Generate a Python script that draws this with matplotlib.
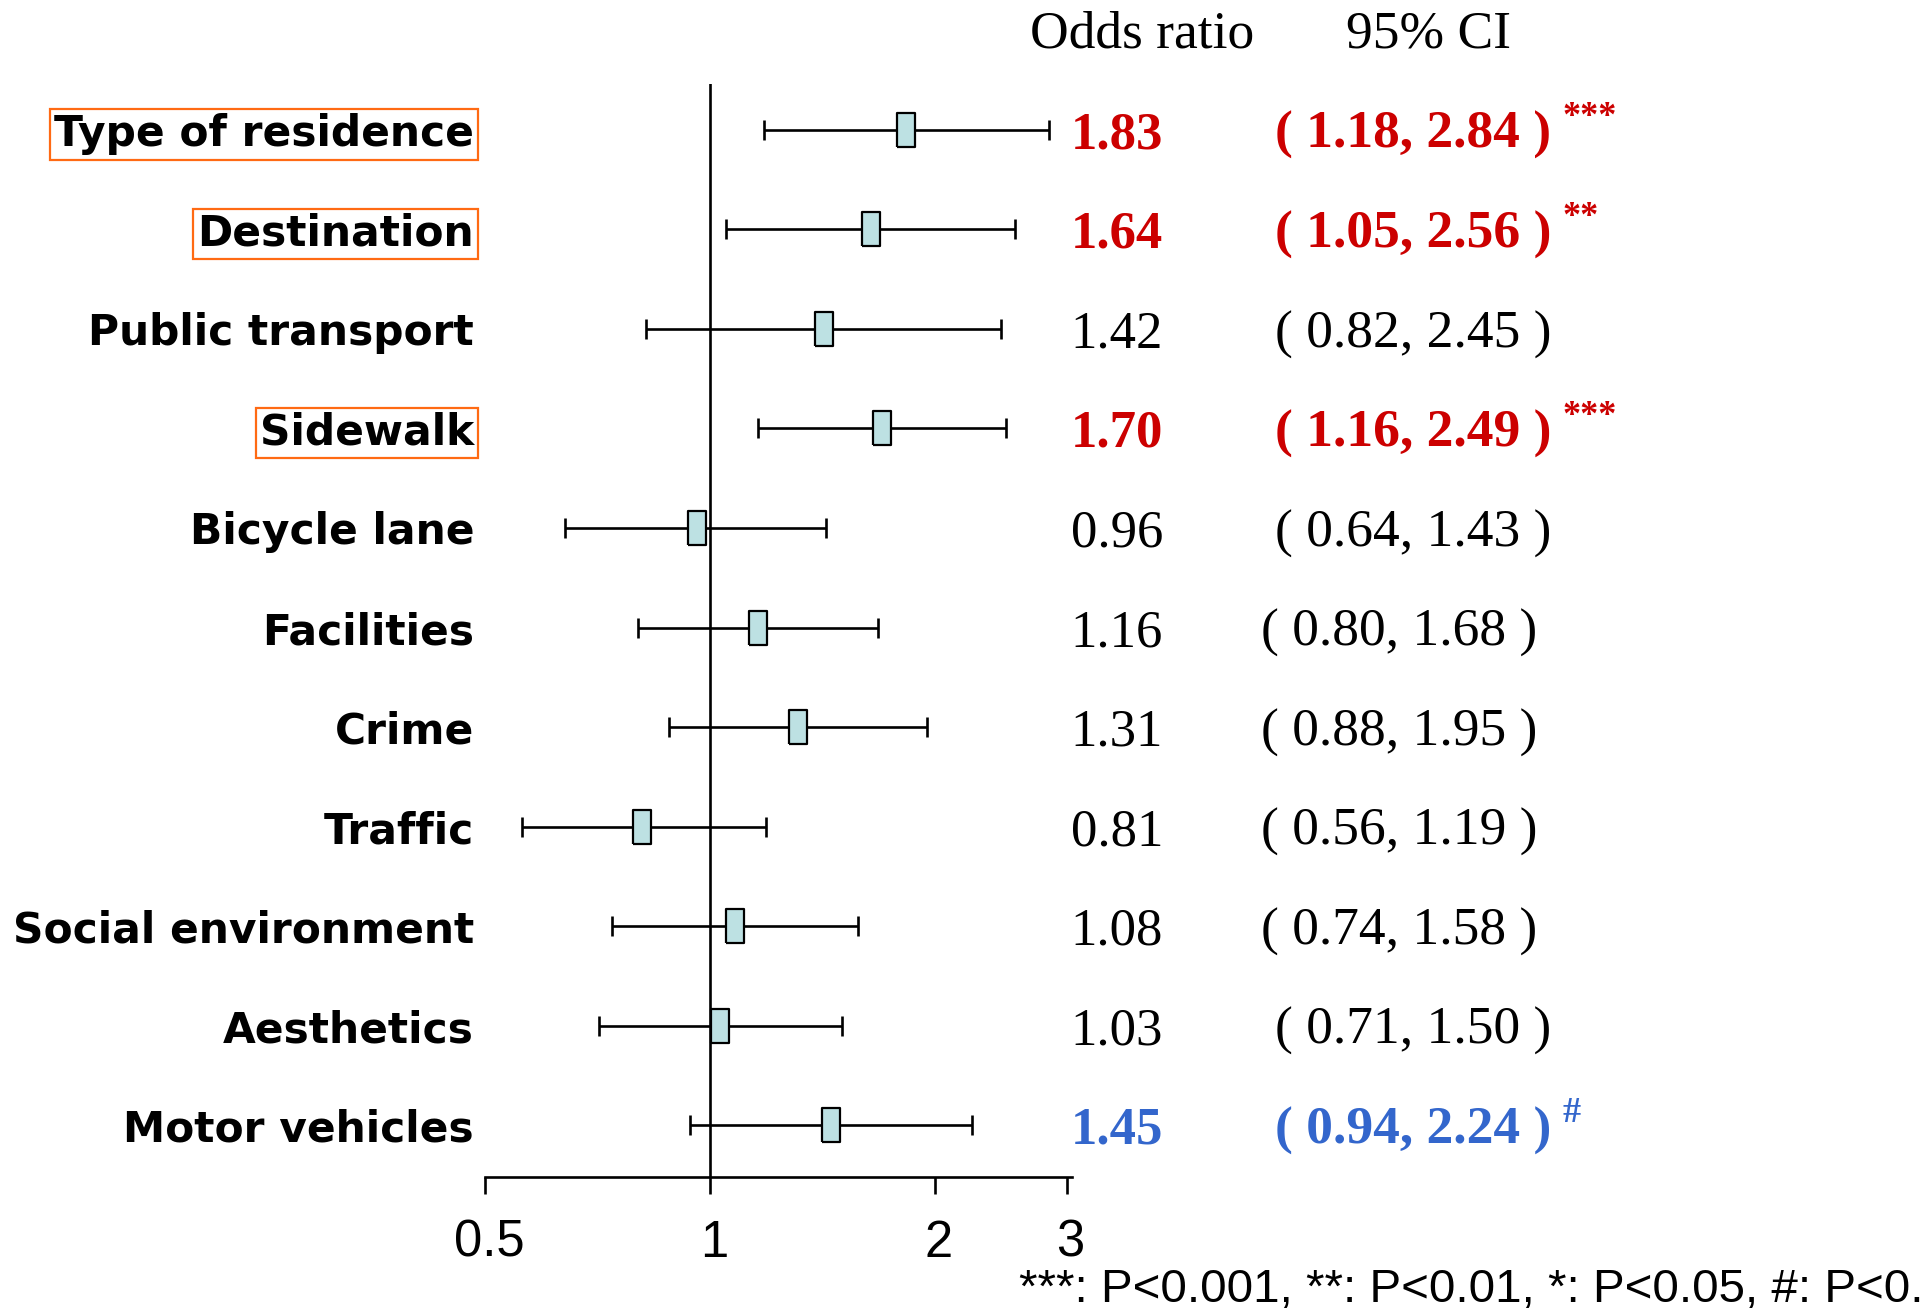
import matplotlib
matplotlib.use("Agg")
import matplotlib.pyplot as plt
import matplotlib.transforms as mtransforms
from matplotlib.ticker import NullLocator

labels = ["Type of residence", "Destination", "Public transport", "Sidewalk",
          "Bicycle lane", "Facilities", "Crime", "Traffic",
          "Social environment", "Aesthetics", "Motor vehicles"]
odds = [1.83, 1.64, 1.42, 1.70, 0.96, 1.16, 1.31, 0.81, 1.08, 1.03, 1.45]
ci_low = [1.18, 1.05, 0.82, 1.16, 0.64, 0.80, 0.88, 0.56, 0.74, 0.71, 0.94]
ci_high = [2.84, 2.56, 2.45, 2.49, 1.43, 1.68, 1.95, 1.19, 1.58, 1.50, 2.24]
signif = ["***", "**", "", "***", "", "", "", "", "", "", "#"]
xticks = [0.5, 1, 2, 3]
footnote = "***: P<0.001, **: P<0.01, *: P<0.05, #: P<0.1"

W, H = 1926, 1312
RED = "#cc0000"
BLUE = "#3366cc"
ORANGE = "#ff6a13"
BOXFILL = "#bde1e3"

fig = plt.figure(figsize=(W / 100, H / 100), dpi=100)
ax = fig.add_axes([485 / W, 1 - 1177 / H, 587 / W, 1093 / H])

n = len(labels)
rows = list(range(n))

# CI bars with caps, then the rectangular OR markers
xerr = [[o - l for o, l in zip(odds, ci_low)], [h - o for o, h in zip(odds, ci_high)]]
ax.errorbar(odds, rows, xerr=xerr, fmt="none", ecolor="black", elinewidth=1.9,
            capsize=7, capthick=1.9, zorder=2)
box = [(-1, -2), (1, -2), (1, 2), (-1, 2), (-1, -2)]
ax.plot(odds, rows, linestyle="none", marker=box, markersize=25,
        markerfacecolor=BOXFILL, markeredgecolor="black", markeredgewidth=1.6, zorder=3)
ax.axvline(1, color="black", linewidth=1.9, zorder=1)

ax.set_xscale("log")
ax.set_xlim(0.5, 3.05)
ax.set_ylim(n - 1 + 0.52, -0.46)
ax.set_xticks(xticks)
ax.set_xticklabels([str(t) for t in xticks], fontsize=36.5, family="Liberation Sans")
ax.xaxis.set_minor_locator(NullLocator())
ax.tick_params(axis="x", length=12, width=1.9, pad=18)
nudge = mtransforms.ScaledTranslation(4 / 100, 0, fig.dpi_scale_trans)
for lbl in ax.get_xticklabels():
    lbl.set_transform(lbl.get_transform() + nudge)
ax.set_yticks([])
for s in ["top", "right", "left"]:
    ax.spines[s].set_visible(False)
ax.spines["bottom"].set_linewidth(1.9)

trans = mtransforms.blended_transform_factory(fig.transFigure, ax.transData)
shifted = {"Facilities", "Crime", "Traffic", "Social environment"}

for i, name in enumerate(labels):
    mark = signif[i]
    if "*" in mark:
        col = RED
    elif "#" in mark:
        col = BLUE
    else:
        col = "black"
    bold = mark != ""
    kw = dict(transform=trans, va="center_baseline", color=col,
              family="Liberation Serif", fontweight="bold" if bold else "normal")

    lab_kw = dict(transform=trans, ha="right", va="center_baseline", fontsize=30.5,
                  fontweight="bold", family="DejaVu Sans", color="black")
    if "*" in mark:
        lab_kw["bbox"] = dict(boxstyle="square,pad=0.1", facecolor="none",
                              edgecolor=ORANGE, linewidth=1.6)
    ax.text(474 / W, i, name, **lab_kw)

    ax.text(1117 / W, i, f"{odds[i]:.2f}", ha="center", fontsize=38, **kw)
    x_ci = 1261 if name in shifted else 1275
    ax.text(x_ci / W, i, f"( {ci_low[i]:.2f}, {ci_high[i]:.2f} )", ha="left",
            fontsize=38.5, **kw)
    if mark:
        ax.text(1562 / W, i - 0.16, mark, transform=trans, ha="left", va="center_baseline",
                color=col, family="Liberation Serif", fontweight="bold", fontsize=26)

fig.text(1030 / W, 1 - 34 / H, "Odds ratio", ha="left", va="center",
         family="Liberation Serif", fontsize=38.5)
fig.text(1346 / W, 1 - 34 / H, "95% CI", ha="left", va="center",
         family="Liberation Serif", fontsize=38.5)
# the legend line runs past the right edge, as in the original figure
fig.text(1019 / W, 1 - 1290 / H, footnote, ha="left", va="center",
         family="Liberation Sans", fontsize=34.2)

fig.savefig("out.png", dpi=100)
